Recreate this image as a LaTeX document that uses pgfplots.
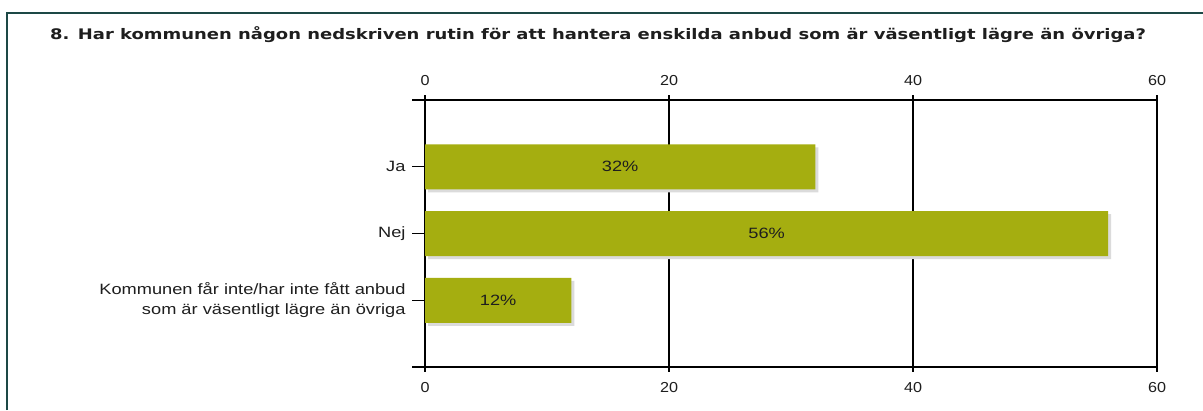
\documentclass[border=0pt]{standalone}
\usepackage{fontspec}
\setmainfont{Liberation Sans}[FakeStretch=1.22]
\newfontfamily\titlefont{DejaVu Sans Bold}[FakeStretch=1.235]
\newfontfamily\tickfont{Liberation Sans}[FakeStretch=1.12]
\usepackage{pgfplots}
\pgfplotsset{compat=1.18}
\definecolor{barcol}{HTML}{A5AE10}
\definecolor{framecol}{HTML}{1D4846}
\definecolor{txt}{HTML}{1E1E1E}
\begin{document}
\begin{tikzpicture}[x=1bp,y=1bp]
\useasboundingbox (0,0) rectangle (1203,410);
\fill[white] (0,0) rectangle (1203,410);
\draw[framecol, line width=2bp] (7,0) -- (7,397) -- (1203,397);
\node[anchor=base west, inner sep=0, font=\titlefont\fontsize{14.6}{17}\selectfont, text=txt] at (50,371) {8. Har kommunen någon nedskriven rutin för att hantera enskilda anbud som är väsentligt lägre än övriga?};

\begin{axis}[
  at={(425bp,43bp)}, anchor=south west, scale only axis,
  width=732bp, height=267bp,
  xmin=0, xmax=60, ymin=-1, ymax=3, y dir=reverse,
  xtick={0,20,40,60}, ytick={-1,0,1,2,3},
  yticklabels={,Ja,Nej,{Kommunen får inte/har inte fått anbud\\som är väsentligt lägre än övriga},},
  xmajorgrids, grid style={black, line width=1.3bp},
  axis line style={black, line width=1.5bp},
  tick align=outside, major tick length=13bp,
  xtick style={draw=none},
  ytick style={black, line width=1.3bp},
  ytick pos=left, xtick pos=lower,
  /pgf/number format/assume math mode=true,
  xticklabel style={font=\tickfont\fontsize{14.5}{16}\selectfont, text=txt, yshift=1bp},
  yticklabel style={font=\fontsize{15}{20}\selectfont, text=txt, align=right, xshift=-3bp},
  clip=false,
]
\foreach \t in {0,20,40,60} {
  \edef\temp{\noexpand\draw[black, line width=1.3bp] (axis cs:\t,3) -- ([yshift=-5bp]axis cs:\t,3);
    \noexpand\draw[black, line width=1.3bp] (axis cs:\t,-1) -- ([yshift=5bp]axis cs:\t,-1);}
  \temp
}
\addplot[xbar, bar shift=0pt, bar width=45bp, fill=black!14, draw=none, xshift=3bp, yshift=-3bp, forget plot] coordinates {(32,0) (56,1) (12,2)};
\addplot[xbar, bar shift=0pt, bar width=45bp, fill=barcol, draw=none] coordinates {(32,0) (56,1) (12,2)};
\addplot[draw=none, mark=none, nodes near coords, point meta=explicit symbolic,
  nodes near coords style={anchor=center, font=\fontsize{15}{17}\selectfont, text=txt}]
  coordinates {(16,0) [32\%] (28,1) [56\%] (6,2) [12\%]};
\end{axis}

\begin{axis}[
  at={(425bp,43bp)}, anchor=south west, scale only axis,
  width=732bp, height=267bp,
  xmin=0, xmax=60, ymin=-1, ymax=3,
  hide y axis, axis x line*=top, axis line style={draw=none},
  xtick={0,20,40,60}, xtick style={draw=none},
  tick align=outside, major tick length=13bp,
  /pgf/number format/assume math mode=true,
  xticklabel style={font=\tickfont\fontsize{14.5}{16}\selectfont, text=txt, yshift=-2bp},
]
\end{axis}
\end{tikzpicture}
\end{document}
